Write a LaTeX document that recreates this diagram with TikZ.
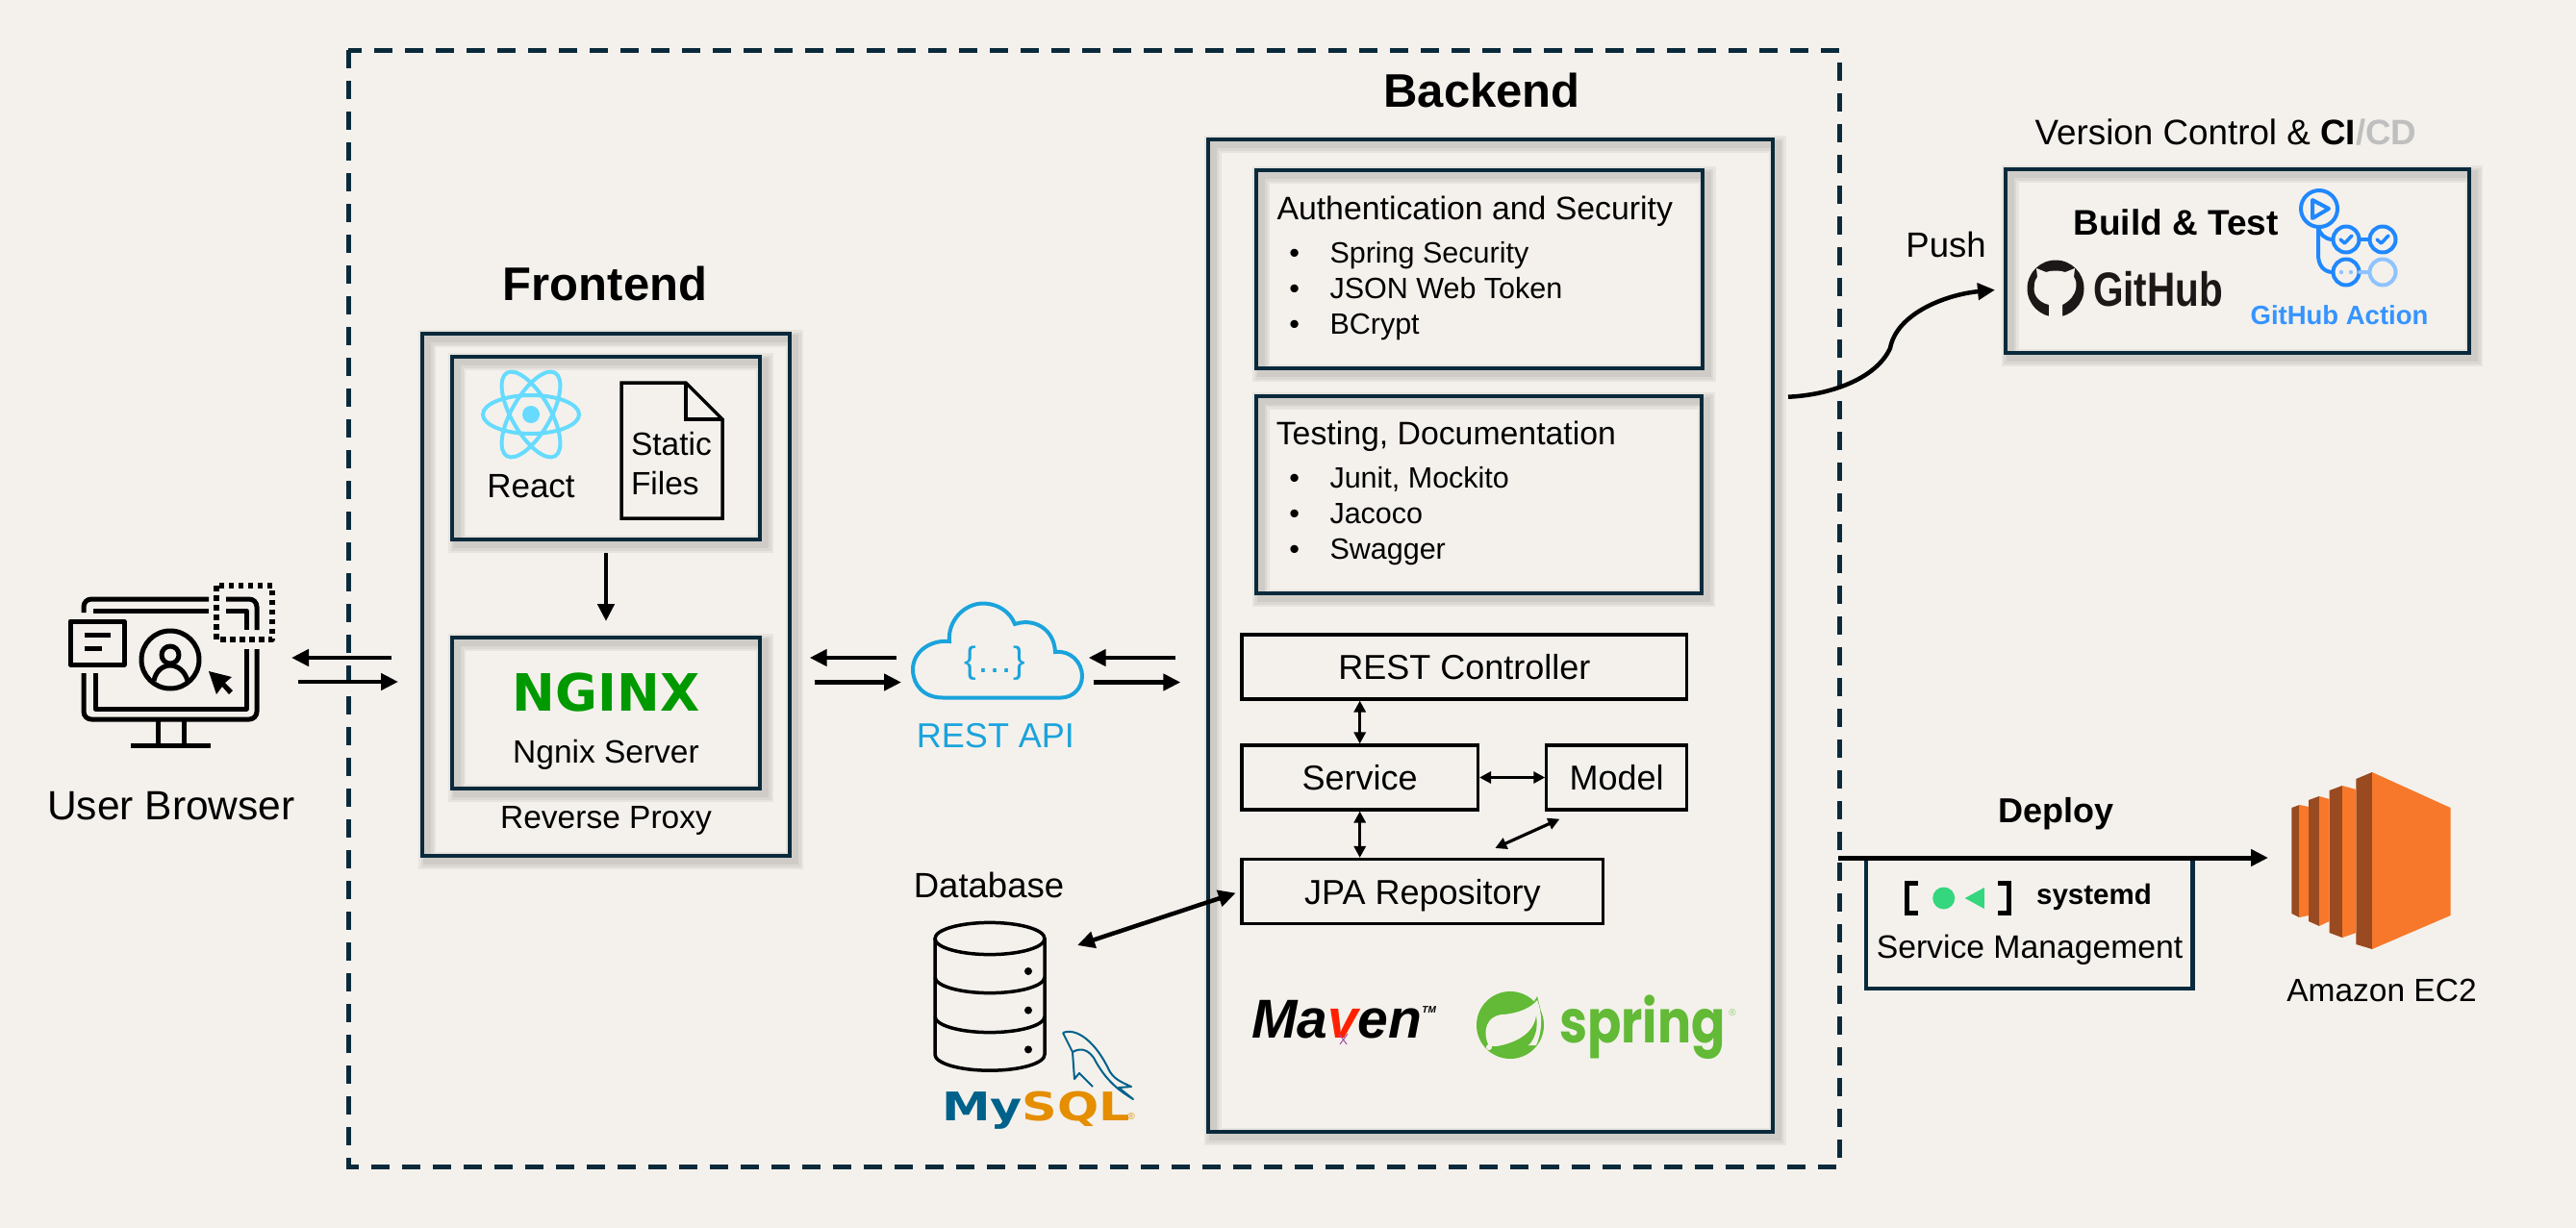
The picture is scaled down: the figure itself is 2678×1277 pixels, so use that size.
\documentclass[tikz,border=0pt]{standalone}
\usepackage{fontspec}
\usepackage{xcolor}
\usetikzlibrary{arrows.meta,calc}
\setmainfont{Liberation Sans}
\newfontfamily\wideface{DejaVu Sans}
\newfontfamily\springface{Poppins}
\newcommand{\txt}[1]{\fontsize{#1}{#1}\selectfont}
\definecolor{pagebg}{HTML}{F4F1EC}
\definecolor{navy}{HTML}{0A2A3C}
\definecolor{reactblue}{HTML}{66DBFF}
\definecolor{nginxgreen}{HTML}{009900}
\definecolor{cloudblue}{HTML}{1AA3DC}
\definecolor{actionblue}{HTML}{2088FF}
\definecolor{actionlight}{HTML}{8FC3FF}
\definecolor{sqlblue}{HTML}{00618A}
\definecolor{sqlorange}{HTML}{E48E00}
\definecolor{springgreen}{HTML}{62BA36}
\definecolor{sysgreen}{HTML}{34D67E}
\definecolor{ecorange}{HTML}{F7782A}
\definecolor{ecbrown}{HTML}{9A4A20}
\definecolor{ghblack}{HTML}{1B1817}
\tikzset{
  softshade/.style={preaction={draw=black,draw opacity=.05,line width=#1,
    transform canvas={shift={(5pt,-5pt)}}}},
  lbl/.style={inner sep=0pt,outer sep=0pt},
  panel/.style={draw=navy,line width=4pt,inner sep=0pt,
    softshade=18pt,softshade=13pt,softshade=8pt},
  plainbox/.style={draw=black,line width=3.2pt,inner sep=0pt,minimum height=67pt,
    font=\txt{36},text height=26pt,text depth=0pt},
  fat/.style={->,line width=4.5pt},
  thin/.style={<->,line width=3.2pt,>={Triangle[length=12pt,width=12pt]}},
  icon/.style={line width=5pt,line join=round},
}

\begin{document}
\begin{tikzpicture}[x=1pt,y=-1pt,>={Triangle[length=18pt,width=17pt]}]
  \fill[pagebg] (0,0) rectangle (2678,1277);
  \useasboundingbox (0,0) rectangle (2678,1277);

  % outer frame
  \draw[navy,line width=5pt,dash pattern=on 19pt off 13pt] (362.3,52.3) rectangle (1912.3,1213);

  % boxes
  \node[panel,minimum width=382pt,minimum height=543pt] (Frontend) at (630,618.5) {};
  \node[panel,minimum width=320pt,minimum height=190pt] (ReactBox) at (630,466) {};
  \node[panel,minimum width=320pt,minimum height=157pt] (NginxBox) at (630,741.5) {};
  \node[panel,minimum width=587pt,minimum height=1032pt] (Backend) at (1549,661) {};
  \node[panel,minimum width=463.6pt,minimum height=206pt] (Auth) at (1537.8,280.3) {};
  \node[panel,minimum width=463.6pt,minimum height=205.6pt] (Testing) at (1537.3,514.5) {};
  \node[panel,minimum width=482.5pt,minimum height=191pt] (Cicd) at (2326,271.5) {};
  \node[plainbox,minimum width=462.6pt] (Rest) at (1522.3,693.5) {REST Controller};
  \node[plainbox,minimum width=245.4pt] (Service) at (1413.7,808.5) {Service};
  \node[plainbox,minimum width=145.7pt] (Model) at (1680.7,808.5) {Model};
  \node[plainbox,minimum width=375.8pt] (Jpa) at (1478.9,927) {JPA Repository};
  \node[draw=navy,line width=4.5pt,inner sep=0pt,minimum width=339.5pt,minimum height=136pt] (Systemd) at (2109.7,960) {};

  % titles
  \node[lbl,font=\txt{49}\bfseries] (FrontTitle) at (629,295) {Frontend};
  \node[lbl,font=\txt{49}\bfseries] (BackTitle) at (1540.5,94) {Backend};
  \node[lbl,font=\txt{42.5}] (BrowserLabel) at (178,838) {User Browser};
  \node[lbl,font=\txt{35}] (ReactLabel) at (552,505.5) {React};
  \node[lbl,font=\txt{33.5},anchor=west] (StaticLabel) at (656,462) {Static};
  \node[lbl,font=\txt{33.5},anchor=west] (FilesLabel) at (656,503) {Files};
  \node[lbl,font=\txt{33.5}] (NgnixLabel) at (630,785) {Ngnix Server};
  \node[lbl,font=\txt{33.5}] (ProxyLabel) at (630,853.5) {Reverse Proxy};
  \node[lbl,font=\wideface\txt{53.5}\bfseries,text=nginxgreen] (NginxLogo) at (630,720.5) {NGINX};
  \node[lbl,font=\txt{38},text=cloudblue] (Braces) at (1034,690) {\{…\}};
  \node[lbl,font=\txt{36},text=cloudblue] (ApiLabel) at (1035,765) {REST API};
  \node[lbl,font=\txt{36.5}] (DbLabel) at (1028,920) {Database};
  \node[lbl,font=\txt{36.5}] (PushLabel) at (2023,254.5) {Push};
  \node[lbl,font=\txt{36.8}] (CicdLabel) at (2314,138) {Version Control \& \textbf{CI}\textbf{\textcolor{black!25}{/CD}}};
  \node[lbl,font=\txt{37}\bfseries] (BuildLabel) at (2262,231) {Build \& Test};
  \node[lbl,font=\txt{50}\bfseries,text=ghblack,xscale=.81] (GithubLabel) at (2243.5,301) {GitHub};
  \node[lbl,font=\txt{27.5}\bfseries,text=actionblue!90!white] (ActionLabel) at (2432,328) {GitHub Action};
  \node[lbl,font=\txt{36}\bfseries] (DeployLabel) at (2137,846) {Deploy};
  \node[lbl,font=\txt{29.5}\bfseries] (SystemdLabel) at (2177,933) {systemd};
  \node[lbl,font=\txt{33.7}] (ManageLabel) at (2110,988) {Service Management};
  \node[lbl,font=\txt{33.5}] (Ec2Label) at (2476,1029.5) {Amazon EC2};

  % lists
  \node[lbl,font=\txt{33.8},anchor=base west] (AuthHead) at (1327.5,228) {Authentication and Security};
  \node[lbl,font=\txt{33.8},anchor=base west] (TestHead) at (1326.8,462) {Testing, Documentation};
  \foreach \n/\y/\t in {a/273.8/Spring Security,b/310.8/JSON Web Token,c/347.8/BCrypt,
                        d/507.5/{Junit, Mockito},e/544.8/Jacoco,f/581.5/Swagger} {
    \node[lbl,font=\txt{30.5},anchor=base] (dot\n) at (1345.6,\y) {•};
    \node[lbl,font=\txt{30.5},anchor=base west] (item\n) at (1382.5,\y) {\t};
  }

  % browser icon
  \begin{scope}[icon]
    \draw (87,637) -- (87,631) arc[start angle=180,end angle=270,radius=8] -- (217,623);
    \draw (235,623) -- (259,623) arc[start angle=270,end angle=360,radius=8] -- (267,655);
    \draw (267,675) -- (267,740) arc[start angle=0,end angle=90,radius=8] -- (95,748)
      arc[start angle=90,end angle=180,radius=8] -- (87,700);
    \draw (97,635) -- (217,635);
    \draw (235,635) -- (256,635) -- (256,655);
    \draw (256,675) -- (256,737) -- (99,737) -- (99,700);
    \draw (164,748) -- (164,775) (191,748) -- (191,775) (136,775) -- (219,775);
    \draw[line width=5.5pt,dash pattern=on 5.5pt off 4.5pt] (225,609) rectangle (283,665);
    \draw (73,646) rectangle (129,691);
    \draw (88,660.5) -- (115,660.5) (88,674) -- (106,674);
    \draw (177,686) circle[radius=30];
    \draw (177,681) circle[radius=9];
    \draw (160,708) .. controls (162,697) and (170,692) .. (177,692) .. controls (184,692) and (192,697) .. (195,708);
    \fill[black] (217,698) -- (241,704) -- (234,710) -- (242,718) -- (238,722) -- (231,714) -- (225,722) -- cycle;
  \end{scope}

  % react and static files
  \foreach \a in {0,60,120}
    \draw[reactblue,line width=4pt,rotate around={\a:(552,431)}] (552,431) ellipse[x radius=50,y radius=20];
  \fill[reactblue] (552,431) circle[radius=9];
  \draw[line width=3.5pt,line join=miter] (713,398) -- (646,398) -- (646,539) -- (751,539) -- (751,436) -- cycle;
  \draw[line width=3.5pt] (713,398) -- (713,436) -- (751,436);

  % rest cloud
  \draw[cloudblue,line width=4pt] (980,725.5) .. controls (960,725.5) and (949,712) .. (949,696)
    .. controls (949,678) and (967,665) .. (987,667)
    .. controls (985,645) and (1003,627.5) .. (1022,627.5)
    .. controls (1037,627.5) and (1050,636) .. (1055,649)
    .. controls (1076,642) and (1096,655) .. (1097,678)
    .. controls (1113,676) and (1125,689) .. (1125,703)
    .. controls (1125,716) and (1115,725.5) .. (1103,725.5) -- cycle;

  % database
  \begin{scope}[line width=3.5pt]
    \draw (972,976) -- (972,1096.6) arc[start angle=180,end angle=0,x radius=57,y radius=16.6] -- (1086,976);
    \draw (1029,976) ellipse[x radius=57,y radius=16.6];
    \draw (972,1016) arc[start angle=180,end angle=0,x radius=57,y radius=16.6];
    \draw (972,1057) arc[start angle=180,end angle=0,x radius=57,y radius=16.6];
    \foreach \y in {1010,1050.6,1091.4} \fill (1069,\y) circle[radius=4];
  \end{scope}
  \node[lbl,font=\wideface\txt{41}\bfseries,xscale=1.24,anchor=base west] (MysqlLogo) at (979,1165.6)
    {\textcolor{sqlblue}{My}\textcolor{sqlorange}{SQL}};
  \node[lbl,font=\txt{10},text=sqlorange] (MysqlMark) at (1176,1161) {®};
  \draw[sqlblue,line width=2pt,line join=round] (1105,1074) .. controls (1120,1068) and (1140,1085) .. (1153,1113)
    .. controls (1158,1122) and (1165,1125) .. (1176,1130) -- (1163,1131) -- (1178,1143)
    .. controls (1165,1135) and (1150,1125) .. (1137,1100) .. controls (1130,1090) and (1122,1090) .. (1115,1094);
  \draw[sqlblue,line width=2pt,line join=round] (1105,1074) -- (1115,1094) -- (1117,1122) -- (1122,1116) -- (1136,1130);

  % maven and spring
  \node[lbl,font=\txt{57}\bfseries\itshape,anchor=base west] (MavenLogo) at (1301,1079)
    {Ma\textcolor{red!75!orange}{v}en\raisebox{26pt}{\txt{10}TM}};
  \draw[violet!70,line width=1pt] (1393,1086) -- (1401,1075) (1400,1086) -- (1392,1075);
  \fill[springgreen] (1570,1066) circle[radius=35];
  \fill[springgreen] (1598,1036) -- (1604,1060) -- (1590,1050) -- cycle;
  \fill[pagebg] (1548,1088) .. controls (1540,1072) and (1546,1056) .. (1562,1055)
    .. controls (1578,1054) and (1592,1048) .. (1598,1040)
    .. controls (1605,1058) and (1602,1076) .. (1597,1087) -- cycle;
  \fill[springgreen] (1550,1089) .. controls (1575,1086) and (1595,1075) .. (1597,1056)
    .. controls (1600,1075) and (1592,1089) .. (1580,1091) -- cycle;
  \fill[pagebg] (1548,1089) circle[radius=3];
  \node[lbl,font=\springface\txt{62}\bfseries,text=springgreen,xscale=.84,anchor=base west] (SpringLogo) at (1621,1084) {spring};
  \node[lbl,font=\txt{10},text=springgreen!70] (SpringMark) at (1801,1053) {®};

  % github
  \fill[ghblack] (2137,300) circle[radius=29.5];
  \fill[pagebg] (2130,332) -- (2130,317) .. controls (2118,314) and (2113,305) .. (2115,297)
    .. controls (2115,293) and (2116,290) .. (2118,288) -- (2117,279) -- (2127,283)
    .. controls (2133,281) and (2141,281) .. (2147,283) -- (2157,279) -- (2156,288)
    .. controls (2160,293) and (2161,308) .. (2144,317) -- (2144,332) -- cycle;

  % github action
  \begin{scope}[actionblue,line width=4pt,line cap=round,line join=round]
    \draw (2411,217) circle[radius=19];
    \draw (2404,208) -- (2404,227) -- (2421,217) -- cycle;
    \draw (2439,249) circle[radius=13.5] (2477,249) circle[radius=13.5] (2439,283) circle[radius=13.5];
    \draw (2410,236) -- (2410,265) .. controls (2410,276) and (2416,283) .. (2425,283);
    \draw (2410,236) .. controls (2411,243) and (2417,249) .. (2425,249);
    \draw (2452.5,249) -- (2463.5,249);
    \draw[line width=3.5pt] (2433,249) -- (2437.5,253) -- (2445,245);
    \draw[line width=3.5pt] (2471,249) -- (2475.5,253) -- (2483,245);
    \draw[actionlight] (2477,283) circle[radius=13.5] (2453,283) -- (2463,283);
    \fill[actionlight] (2434,283) circle[radius=2.2] (2444,283) circle[radius=2.2];
  \end{scope}

  % systemd mark
  \draw[line width=5pt] (1994,918.5) -- (1982.5,918.5) -- (1982.5,949.5) -- (1994,949.5);
  \draw[line width=5pt] (2077,918.5) -- (2088.5,918.5) -- (2088.5,949.5) -- (2077,949.5);
  \fill[sysgreen] (2020.7,934) circle[radius=11.5];
  \fill[sysgreen] (2042.7,934) -- (2062.8,923) -- (2062.8,945) -- cycle;

  % ec2
  \fill[ecbrown] (2449.4,810) -- (2466,803) -- (2466,987) -- (2449.4,982) -- cycle;
  \fill[ecorange] (2466,803) -- (2547.5,840) -- (2547.5,952) -- (2466,987) -- cycle;
  \fill[ecbrown] (2421.6,822) -- (2435,817) -- (2435,975) -- (2421.6,970) -- cycle;
  \fill[ecorange] (2435,817) -- (2449.4,821) -- (2449.4,970) -- (2435,975) -- cycle;
  \fill[ecbrown] (2400,832) -- (2411,828) -- (2411,963) -- (2400,958) -- cycle;
  \fill[ecorange] (2411,828) -- (2421.6,831) -- (2421.6,958) -- (2411,963) -- cycle;
  \fill[ecbrown] (2382.4,840) -- (2390.5,837) -- (2390.5,954) -- (2382.4,950) -- cycle;
  \fill[ecorange] (2390.5,837) -- (2400,839) -- (2400,952) -- (2390.5,954) -- cycle;

  % ends of the arrows
  \coordinate (browserin) at (303,684);
  \coordinate (frontout) at (407,684);
  \coordinate (browserout) at (310,709);
  \coordinate (frontin) at (414,709);
  \coordinate (frontback) at (841.7,684);
  \coordinate (cloudleft) at (931.7,684);
  \coordinate (frontsend) at (846.7,709.5);
  \coordinate (cloudenter) at (937,709.5);
  \coordinate (cloudback) at (1131.7,684);
  \coordinate (backleft) at (1221.7,684);
  \coordinate (cloudsend) at (1136.7,709.5);
  \coordinate (backenter) at (1227.3,709.5);
  \coordinate (dbport) at (1120,983);
  \coordinate (modelport) at (1621.4,851.7);
  \coordinate (jpaport) at (1554.3,882);
  \coordinate (pushstart) at (1859,412.7);
  \coordinate (pushtip) at (2074,301.5);
  \coordinate (deploystart) at (1911,892);
  \coordinate (deploytip) at (2358,892);

  % arrows
  \draw[fat] (frontout) -- (browserin);
  \draw[fat] (browserout) -- (frontin);
  \draw[fat] (cloudleft) -- (frontback);
  \draw[fat] (frontsend) -- (cloudenter);
  \draw[fat] (backleft) -- (cloudback);
  \draw[fat] (cloudsend) -- (backenter);
  \draw[fat] ($(ReactBox.south)+(0,12)$) -- ($(NginxBox.north)+(0,-15)$);
  \draw[fat,<->,shorten >=5pt] (dbport) -- (Jpa.west);
  \draw[thin] (Rest.south -| Service.north) -- (Service.north);
  \draw[thin] (Service.east) -- (Model.west);
  \draw[thin] (Service.south) -- (Service.south |- Jpa.north);
  \draw[thin] (modelport) -- (jpaport);
  \draw[fat] (pushstart) .. controls (1900,411) and (1950,395) .. (1965,362)
    .. controls (1972,325) and (2025,306) .. (pushtip);
  \draw[fat,line width=5pt] (deploystart) -- (deploytip);
\end{tikzpicture}
\end{document}
